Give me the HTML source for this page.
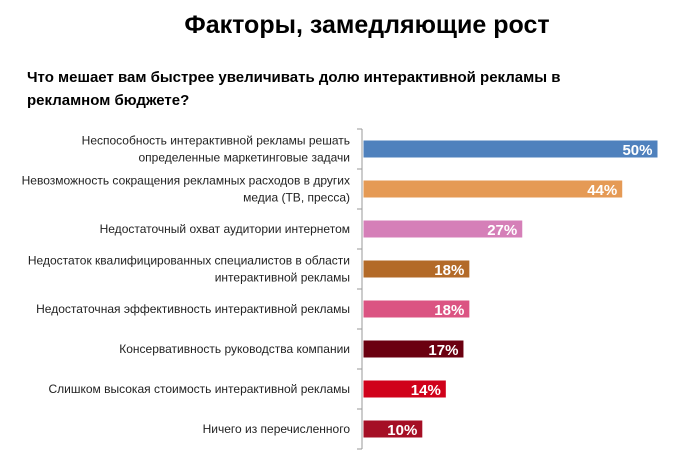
<!DOCTYPE html>
<html><head><meta charset="utf-8"><style>
body{margin:0;width:700px;height:460px;background:#fff;font-family:"Liberation Sans","DejaVu Sans",sans-serif;overflow:hidden}
</style></head><body>
<svg width="700" height="460">
<text x="367" y="33" text-anchor="middle" font-size="25" font-weight="bold" fill="#000">Факторы, замедляющие рост</text>
<text x="27" y="82" font-size="15" font-weight="bold" fill="#000">Что мешает вам быстрее увеличивать долю интерактивной рекламы в</text>
<text x="27" y="105" font-size="15" font-weight="bold" fill="#000">рекламном бюджете?</text>
<g id="plot"></g>
</svg>
<script>
const categories=[
["Неспособность интерактивной рекламы решать","определенные маркетинговые задачи"],
["Невозможность сокращения рекламных расходов в других","медиа (ТВ, пресса)"],
["Недостаточный охват аудитории интернетом"],
["Недостаток квалифицированных специалистов в области","интерактивной рекламы"],
["Недостаточная эффективность интерактивной рекламы"],
["Консервативность руководства компании"],
["Слишком высокая стоимость интерактивной рекламы"],
["Ничего из перечисленного"]];
const values=[50,44,27,18,18,17,14,10];
const colors=["#4F81BD","#E59A55","#D57FB8","#B36A28","#DB5482","#6B0010","#D0021B","#A50F25"];
const x0=363.5,scale=5.88,top0=129,step=40,bh=17;
const xs=v=>x0+v*scale, yc=i=>top0+step*i+step/2;
const g=document.getElementById('plot');const NS="http://www.w3.org/2000/svg";
function mk(t,a){const e=document.createElementNS(NS,t);for(const k in a)e.setAttribute(k,a[k]);g.appendChild(e);return e;}
let ax=mk('line',{x1:362,x2:362,y1:top0,y2:top0+step*categories.length,stroke:'#999'});


for(let i=0;i<=categories.length;i++){let t=mk('line',{x1:357,x2:362,y1:top0+step*i,y2:top0+step*i,stroke:'#999'});

}
values.forEach((v,i)=>{
 const c=yc(i);
 let r=mk('rect',{x:x0,y:c-bh/2,width:v*scale,height:bh,fill:colors[i]});
 
 
 let t=mk('text',{x:xs(v)-5,y:c+6,'text-anchor':'end','font-size':15,'font-weight':'bold',fill:'#fff'});
 t.textContent=v+'%';
 
 
 const lines=categories[i];
 lines.forEach((s,j)=>{
  let l=mk('text',{x:350,y:c+4+(j-(lines.length-1)/2)*17,'text-anchor':'end','font-size':12,fill:'#222'});
  l.textContent=s;
  
  
 });
});
</script>
</body></html>
